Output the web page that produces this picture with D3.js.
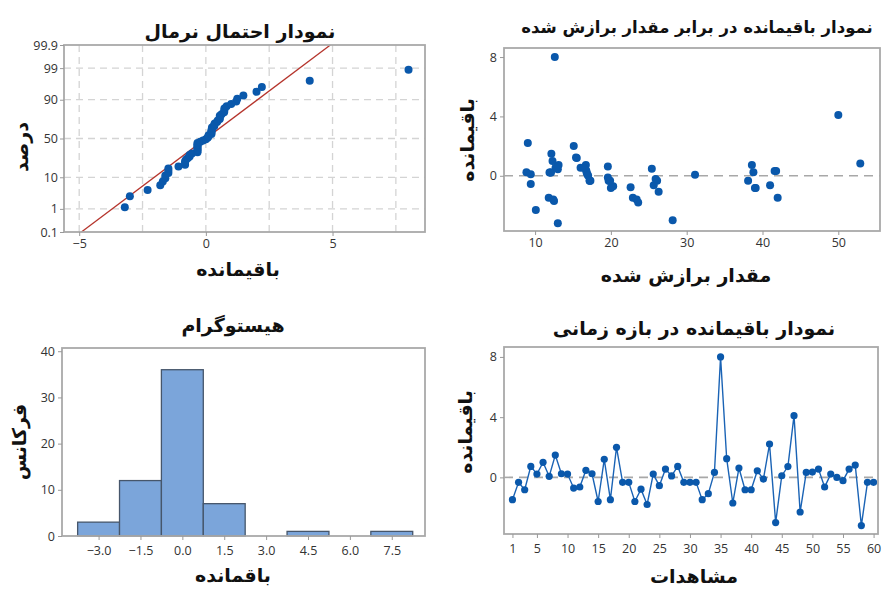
<!DOCTYPE html>
<html><head><meta charset="utf-8">
<script src="https://cdn.jsdelivr.net/npm/d3@7"></script>
<style>
body{margin:0;background:#fff;}
svg{display:block;}
.tick text{font-family:"Open Sans",sans-serif;font-size:12.5px;fill:#333;}
.ttl{font-family:"DejaVu Sans",sans-serif;font-weight:bold;fill:#111;}
</style></head><body>
<svg id="c" width="882" height="590"></svg>
<script>
// ---------- DATA ----------
const observations = d3.range(1, 61);
const residuals = [-1.48,-0.33,-0.82,0.73,0.22,1.0,0.07,1.48,0.24,0.22,
  -0.71,-0.64,0.47,0.24,-1.6,1.2,-1.48,2.0,-0.33,-0.33,
  -1.6,-0.78,-1.8,0.22,-0.55,0.55,0.1,0.73,-0.33,-0.33,
  -0.33,-1.48,-1.08,0.33,8.0,1.24,-1.7,0.62,-0.82,-0.82,
  0.44,-0.11,2.21,-3.0,0.11,0.72,4.1,-2.3,0.33,0.35,
  0.55,-0.64,0.22,0.0,-0.22,0.55,0.82,-3.2,-0.33,-0.33];
const fits = [22.9,17.2,20.0,38.6,11.9,12.3,31.1,12.15,8.86,12.1,
  20.3,41.0,25.4,38.8,12.4,15.5,11.8,15.1,38.1,19.7,
  23.4,22.6,23.6,16.8,9.43,16.0,16.9,16.7,26.1,19.8,
  17.3,42.0,26.3,41.6,12.6,15.4,12.5,19.6,39.0,39.1,
  13.0,19.6,9.04,28.15,9.43,13.1,50.0,10.1,41.8,16.75,
  12.7,25.65,12.0,17.0,25.9,16.4,52.9,13.0,19.9,17.2];
const histBins = [-3.0,-1.5,0.0,1.5,3.0,4.5,6.0,7.5];
const histCounts = [3,12,36,7,0,1,0,1];
const probTicks = [0.1,1,10,50,90,99,99.9];
const probXTicks = [-5,0,5];
const fitXTicks = [10,20,30,40,50];
const resTicks = [0,4,8];
const histYTicks = [0,10,20,30,40];
const obsTicks = [1,5,10,15,20,25,30,35,40,45,50,55,60];
const fitLine = {mean:0.0, sd:1.59};
const titles = ["نمودار احتمال نرمال","نمودار باقیمانده در برابر مقدار برازش شده","هیستوگرام","نمودار باقیمانده در بازه زمانی"];

// ---------- helpers ----------
function probit(p){ // Acklam inverse normal CDF
  const a=[-3.969683028665376e+01,2.209460984245205e+02,-2.759285104469687e+02,1.383577518672690e+02,-3.066479806614716e+01,2.506628277459239e+00];
  const b=[-5.447609879822406e+01,1.615858368580409e+02,-1.556989798598866e+02,6.680131188771972e+01,-1.328068155288572e+01];
  const c=[-7.784894002430293e-03,-3.223964580411365e-01,-2.400758277161838e+00,-2.549732539343734e+00,4.374664141464968e+00,2.938163982698783e+00];
  const d=[7.784695709041462e-03,3.224671290700398e-01,2.445134137142996e+00,3.754408661907416e+00];
  const pl=0.02425;
  if(p<pl){const q=Math.sqrt(-2*Math.log(p));return (((((c[0]*q+c[1])*q+c[2])*q+c[3])*q+c[4])*q+c[5])/((((d[0]*q+d[1])*q+d[2])*q+d[3])*q+1);}
  if(p>1-pl){const q=Math.sqrt(-2*Math.log(1-p));return -(((((c[0]*q+c[1])*q+c[2])*q+c[3])*q+c[4])*q+c[5])/((((d[0]*q+d[1])*q+d[2])*q+d[3])*q+1);}
  const q=p-0.5,r=q*q;
  return (((((a[0]*r+a[1])*r+a[2])*r+a[3])*r+a[4])*r+a[5])*q/(((((b[0]*r+b[1])*r+b[2])*r+b[3])*r+b[4])*r+1);
}
const svg = d3.select("#c");
const ptColor = "#0a58ab";
const gridCol = "#d4d4d4";

function frame(g, x0,x1,y0,y1){
  g.append("rect").attr("x",x0).attr("y",y0).attr("width",x1-x0).attr("height",y1-y0)
   .attr("fill","none").attr("stroke","#a9a9a9").attr("stroke-width",1.8);
}
function styleAxis(sel){
  sel.select(".domain").remove();
  sel.selectAll(".tick line").attr("stroke","#999");
}
function title(txt,x,y,size){
  svg.append("text").attr("class","ttl").attr("x",x).attr("y",y).attr("text-anchor","middle")
    .attr("direction","rtl").attr("font-size",size).text(txt);
}
function ylab(txt,x,y,size){
  svg.append("text").attr("class","ttl").attr("transform",`translate(${x},${y}) rotate(-90)`)
    .attr("text-anchor","middle").attr("direction","rtl").attr("font-size",size).text(txt);
}

// ---------- Panel 1: normal probability ----------
{
  const L=64,R=425,T=45,B=232;
  const x=d3.scaleLinear().domain([-5.6,8.65]).range([L,R]);
  const y=d3.scaleLinear().domain([probit(0.001),probit(0.999)]).range([B,T]);
  const g=svg.append("g");
  g.selectAll(".vg").data([-5,-2.5,0,2.5,5,7.5]).join("line").attr("x1",d=>x(d)).attr("x2",d=>x(d))
    .attr("y1",T).attr("y2",B).attr("stroke",gridCol).attr("stroke-width",1.3).attr("stroke-dasharray","7,5");
  g.selectAll(".hg").data(probTicks.slice(1,-1)).join("line").attr("y1",d=>y(probit(d/100))).attr("y2",d=>y(probit(d/100)))
    .attr("x1",L).attr("x2",R).attr("stroke",gridCol).attr("stroke-width",1.3).attr("stroke-dasharray","7,5");
  const lo=fitLine.mean+fitLine.sd*probit(0.001), hi=fitLine.mean+fitLine.sd*probit(0.999);
  g.append("line").attr("x1",x(lo)).attr("y1",y(probit(0.001))).attr("x2",x(hi)).attr("y2",y(probit(0.999)))
    .attr("stroke","#b5342c").attr("stroke-width",1.3);
  const sorted=residuals.slice().sort(d3.ascending), n=sorted.length;
  g.selectAll(".pt").data(sorted).join("circle").attr("cx",d=>x(d)).attr("cy",(d,i)=>y(probit((i+1-0.3)/(n+0.4))))
    .attr("r",4).attr("fill",ptColor);
  frame(g,L,R,T,B);
  const ax=g.append("g").attr("transform",`translate(0,${B})`).call(d3.axisBottom(x).tickValues(probXTicks).tickSize(4).tickPadding(3));
  styleAxis(ax);
  const ay=g.append("g").attr("transform",`translate(${L},0)`).call(d3.axisLeft(d3.scaleLinear().domain(y.domain()).range(y.range()))
    .tickValues(probTicks.map(p=>probit(p/100))).tickFormat((d,i)=>probTicks[i]).tickSize(4).tickPadding(2));
  styleAxis(ay);
  title(titles[0],240,38,19);
  title("باقیمانده",238,276,19);
  ylab("درصد",28,147,19);
}

// ---------- Panel 2: residuals vs fits ----------
{
  const L=504,R=880,T=48,B=231;
  const x=d3.scaleLinear().domain([5.9,55.5]).range([L,R]);
  const y=d3.scaleLinear().domain([-3.72,8.61]).range([B,T]);
  const g=svg.append("g");
  g.append("line").attr("x1",L).attr("x2",R).attr("y1",y(0)).attr("y2",y(0))
    .attr("stroke","#a8a8a8").attr("stroke-width",1.6).attr("stroke-dasharray","9,6");
  g.selectAll(".pt").data(observations).join("circle").attr("cx",i=>x(fits[i-1])).attr("cy",i=>y(residuals[i-1]))
    .attr("r",4).attr("fill",ptColor);
  frame(g,L,R,T,B);
  const ax=g.append("g").attr("transform",`translate(0,${B})`).call(d3.axisBottom(x).tickValues(fitXTicks).tickSize(4).tickPadding(3));
  styleAxis(ax);
  const ay=g.append("g").attr("transform",`translate(${L},0)`).call(d3.axisLeft(y).tickValues(resTicks).tickSize(4).tickPadding(3));
  styleAxis(ay);
  title(titles[1],697,33,16.5);
  title("مقدار برازش شده",686,282,19);
  ylab("باقیمانده",474,140,19);
}

// ---------- Panel 3: histogram ----------
{
  const L=62,R=425,T=348,B=536;
  const x=d3.scaleLinear().domain([-4.31,8.69]).range([L,R]);
  const y=d3.scaleLinear().domain([0,40.7]).range([B,T]);
  const g=svg.append("g");
  const w=histBins[1]-histBins[0];
  g.selectAll(".bar").data(histBins.map((b,i)=>({b,c:histCounts[i]})).filter(d=>d.c>0)).join("rect")
    .attr("x",d=>x(d.b-w/2)).attr("width",d=>x(d.b+w/2)-x(d.b-w/2))
    .attr("y",d=>y(d.c)).attr("height",d=>y(0)-y(d.c))
    .attr("fill","#7ba5da").attr("stroke","#46566b").attr("stroke-width",1.3);
  frame(g,L,R,T,B);
  const ax=g.append("g").attr("transform",`translate(0,${B})`).call(d3.axisBottom(x).tickValues(histBins).tickFormat(d3.format(".1f")).tickSize(4).tickPadding(6));
  styleAxis(ax);
  const ay=g.append("g").attr("transform",`translate(${L},0)`).call(d3.axisLeft(y).tickValues(histYTicks).tickSize(4).tickPadding(3));
  styleAxis(ay);
  title(titles[2],233,332,19);
  title("باقمانده",233,582,19);
  ylab("فرکانس",26,442,19);
}

// ---------- Panel 4: residuals vs order ----------
{
  const L=504,R=878,T=347,B=534;
  const x=d3.scaleLinear().domain([-0.38,60.72]).range([L,R]);
  const y=d3.scaleLinear().domain([-3.76,8.66]).range([B,T]);
  const g=svg.append("g");
  g.append("line").attr("x1",L).attr("x2",R).attr("y1",y(0)).attr("y2",y(0))
    .attr("stroke","#a8a8a8").attr("stroke-width",1.6).attr("stroke-dasharray","9,6");
  g.append("path").datum(observations).attr("fill","none").attr("stroke","#1a63b5").attr("stroke-width",1.4)
    .attr("d",d3.line().x(i=>x(i)).y(i=>y(residuals[i-1])));
  g.selectAll(".pt").data(observations).join("circle").attr("cx",i=>x(i)).attr("cy",i=>y(residuals[i-1]))
    .attr("r",3.6).attr("fill",ptColor);
  frame(g,L,R,T,B);
  const ax=g.append("g").attr("transform",`translate(0,${B})`).call(d3.axisBottom(x).tickValues(obsTicks).tickSize(4).tickPadding(6));
  styleAxis(ax);
  const ay=g.append("g").attr("transform",`translate(${L},0)`).call(d3.axisLeft(y).tickValues(resTicks).tickSize(4).tickPadding(3));
  styleAxis(ay);
  title(titles[3],694,335,19);
  title("مشاهدات",694,583,19);
  ylab("باقیمانده",472,432,19);
}
</script></body></html>
